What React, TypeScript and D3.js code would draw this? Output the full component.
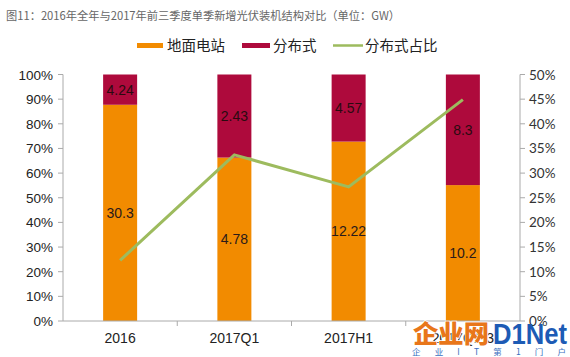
import React from "react";
import * as d3 from "d3";

const categories = ["2016", "2017Q1", "2017H1", "2017Q1-3"];
const groundValues = [30.3, 4.78, 12.22, 10.2];
const distValues = [4.24, 2.43, 4.57, 8.3];
const shareValues = [12.3, 33.7, 27.2, 44.9];
const leftTicks = [0, 10, 20, 30, 40, 50, 60, 70, 80, 90, 100];
const rightTicks = [0, 5, 10, 15, 20, 25, 30, 35, 40, 45, 50];

const W = 570, H = 357;
const left = 63, right = 520, top = 74.5, bottom = 321;
const ORANGE = "#F28B00";
const RED = "#AE0A3C";
const GREEN = "#9DBB5E";

export default function App() {
  const xb = d3.scaleBand<string>().domain(categories).range([left, right]);
  const yL = d3.scaleLinear().domain([0, 100]).range([bottom, top]);
  const yR = d3.scaleLinear().domain([0, 50]).range([bottom, top]);
  const line = d3.line<number>().x((_, i) => xb(categories[i])! + xb.bandwidth() / 2).y((d) => yR(d));
  const leftFont = "'Liberation Sans', Arial, sans-serif";
  const rightFont = "Lato, 'Open Sans', sans-serif";
  const cjk = "'Noto Sans CJK SC', sans-serif";
  const bw = 34;

  return (
    <svg width={W} height={H} style={{ position: "absolute", left: 0, top: 0, background: "#fff" }}>
      <text x={6} y={20} fontFamily={cjk} fontSize={11.5} fill="#666" textLength={394} lengthAdjust="spacingAndGlyphs">图11：2016年全年与2017年前三季度单季新增光伏装机结构对比（单位：GW）</text>
      {/* legend */}
      <rect x={137} y={43} width={26} height={5} fill={ORANGE} />
      <text x={167} y={51} fontFamily={cjk} fontSize={14.5} fill="#222">地面电站</text>
      <rect x={242} y={43} width={28} height={5} fill={RED} />
      <text x={273} y={51} fontFamily={cjk} fontSize={14.5} fill="#222">分布式</text>
      <line x1={333} x2={363} y1={45.5} y2={45.5} stroke={GREEN} strokeWidth={2.5} />
      <text x={365} y={51} fontFamily={cjk} fontSize={14.5} fill="#222">分布式占比</text>

      {/* bars */}
      {categories.map((c, i) => {
        const total = groundValues[i] + distValues[i];
        const gp = (groundValues[i] / total) * 100;
        const cx = xb(c)! + xb.bandwidth() / 2;
        const x0 = cx - bw / 2;
        return (
          <g key={c}>
            <rect x={x0} y={yL(gp)} width={bw} height={bottom - yL(gp)} fill={ORANGE} />
            <rect x={x0} y={yL(100)} width={bw} height={yL(gp) - yL(100)} fill={RED} />
            <text x={cx} y={(yL(gp) + bottom) / 2 + 5} textAnchor="middle" fontFamily={leftFont} fontSize={14} fill="#2a1a1a">{groundValues[i]}</text>
            <text x={cx} y={(yL(gp) + yL(100)) / 2 + 5} textAnchor="middle" fontFamily={leftFont} fontSize={14} fill="#2a0a10">{distValues[i]}</text>
          </g>
        );
      })}

      {/* line */}
      <path d={line(shareValues)!} fill="none" stroke={GREEN} strokeWidth={3} strokeLinejoin="round" />

      {/* left axis */}
      <line x1={left} x2={left} y1={top} y2={bottom} stroke="#aaa" />
      {leftTicks.map((t) => (
        <g key={t}>
          <line x1={left - 5} x2={left} y1={yL(t)} y2={yL(t)} stroke="#aaa" />
          <text x={53} y={yL(t) + 5} textAnchor="end" fontFamily={leftFont} fontSize={13.5} fill="#222">{t}%</text>
        </g>
      ))}
      {/* right axis */}
      <line x1={right} x2={right} y1={top} y2={bottom} stroke="#aaa" />
      {rightTicks.map((t) => (
        <g key={t}>
          <line x1={right} x2={right + 5} y1={yR(t)} y2={yR(t)} stroke="#aaa" />
          <text x={529} y={yR(t) + 5} textAnchor="start" fontFamily={rightFont} fontSize={13.5} fill="#333">{t}%</text>
        </g>
      ))}
      {/* bottom axis */}
      <line x1={left} x2={right} y1={bottom} y2={bottom} stroke="#aaa" />
      {categories.map((c, i) => (
        <g key={c}>
          {i > 0 && <line x1={xb(c)!} x2={xb(c)!} y1={bottom} y2={bottom + 5} stroke="#aaa" />}
          <text x={xb(c)! + xb.bandwidth() / 2} y={343} textAnchor="middle" fontFamily={leftFont} fontSize={14} fill="#222">{c}</text>
        </g>
      ))}

      {/* watermark */}
      <text x={413} y={343} fontFamily={cjk} fontSize={25} fontWeight={900} fill="#E8761A" stroke="#fff" strokeWidth={1.5} paintOrder="stroke" textLength={76} lengthAdjust="spacingAndGlyphs">企业网</text>
      <text x={493} y={344} fontFamily={leftFont} fontSize={29} fontWeight={700} fill="#1D5BB5" textLength={74} lengthAdjust="spacingAndGlyphs">D1Net</text>
      <text x={412} y={355} fontFamily={cjk} fontSize={8.5} fill="#3A6FC0" textLength={154} lengthAdjust="spacing">企业IT第1门户</text>
    </svg>
  );
}
